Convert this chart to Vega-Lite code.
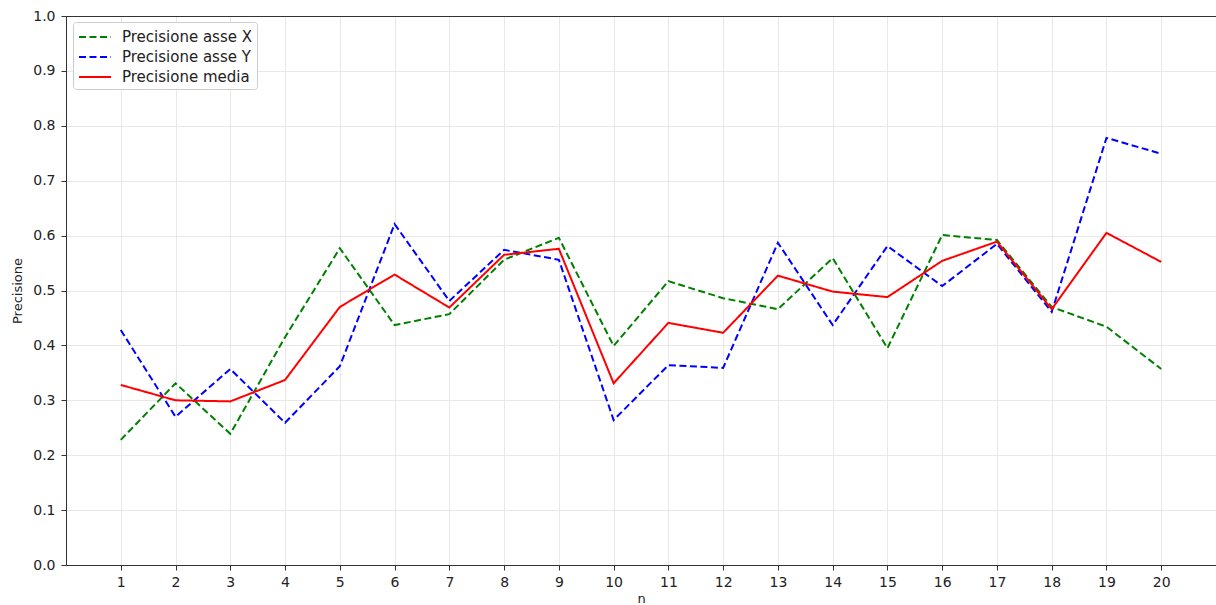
{
  "$schema": "https://vega.github.io/schema/vega-lite/v6.json",
  "width": 1150,
  "height": 549,
  "autosize": {"type": "none"},
  "padding": {"left": 66, "top": 16, "right": 0, "bottom": 40},
  "background": "white",
  "config": {
    "view": {"stroke": "#333", "strokeWidth": 1},
    "font": "DejaVu Sans",
    "axis": {
      "labelFont": "DejaVu Sans",
      "titleFont": "DejaVu Sans",
      "labelFontSize": 14,
      "titleFontSize": 13,
      "labelColor": "#222",
      "titleColor": "#222",
      "titleFontWeight": "normal",
      "domainColor": "#333",
      "tickColor": "#333",
      "tickSize": 5,
      "gridWidth": 1
    }
  },
  "data": {
    "values": [
      {"n": 1, "s": "Precisione asse X", "v": 0.228},
      {"n": 2, "s": "Precisione asse X", "v": 0.331},
      {"n": 3, "s": "Precisione asse X", "v": 0.239},
      {"n": 4, "s": "Precisione asse X", "v": 0.415},
      {"n": 5, "s": "Precisione asse X", "v": 0.577},
      {"n": 6, "s": "Precisione asse X", "v": 0.437},
      {"n": 7, "s": "Precisione asse X", "v": 0.457},
      {"n": 8, "s": "Precisione asse X", "v": 0.556},
      {"n": 9, "s": "Precisione asse X", "v": 0.596},
      {"n": 10, "s": "Precisione asse X", "v": 0.399},
      {"n": 11, "s": "Precisione asse X", "v": 0.517},
      {"n": 12, "s": "Precisione asse X", "v": 0.486},
      {"n": 13, "s": "Precisione asse X", "v": 0.466},
      {"n": 14, "s": "Precisione asse X", "v": 0.559},
      {"n": 15, "s": "Precisione asse X", "v": 0.395},
      {"n": 16, "s": "Precisione asse X", "v": 0.601},
      {"n": 17, "s": "Precisione asse X", "v": 0.592},
      {"n": 18, "s": "Precisione asse X", "v": 0.470},
      {"n": 19, "s": "Precisione asse X", "v": 0.434},
      {"n": 20, "s": "Precisione asse X", "v": 0.357},
      {"n": 1, "s": "Precisione asse Y", "v": 0.428},
      {"n": 2, "s": "Precisione asse Y", "v": 0.270},
      {"n": 3, "s": "Precisione asse Y", "v": 0.357},
      {"n": 4, "s": "Precisione asse Y", "v": 0.259},
      {"n": 5, "s": "Precisione asse Y", "v": 0.362},
      {"n": 6, "s": "Precisione asse Y", "v": 0.621},
      {"n": 7, "s": "Precisione asse Y", "v": 0.481},
      {"n": 8, "s": "Precisione asse Y", "v": 0.574},
      {"n": 9, "s": "Precisione asse Y", "v": 0.556},
      {"n": 10, "s": "Precisione asse Y", "v": 0.264},
      {"n": 11, "s": "Precisione asse Y", "v": 0.364},
      {"n": 12, "s": "Precisione asse Y", "v": 0.359},
      {"n": 13, "s": "Precisione asse Y", "v": 0.587},
      {"n": 14, "s": "Precisione asse Y", "v": 0.437},
      {"n": 15, "s": "Precisione asse Y", "v": 0.581},
      {"n": 16, "s": "Precisione asse Y", "v": 0.508},
      {"n": 17, "s": "Precisione asse Y", "v": 0.585},
      {"n": 18, "s": "Precisione asse Y", "v": 0.461},
      {"n": 19, "s": "Precisione asse Y", "v": 0.778},
      {"n": 20, "s": "Precisione asse Y", "v": 0.749},
      {"n": 1, "s": "Precisione media", "v": 0.328},
      {"n": 2, "s": "Precisione media", "v": 0.300},
      {"n": 3, "s": "Precisione media", "v": 0.298},
      {"n": 4, "s": "Precisione media", "v": 0.337},
      {"n": 5, "s": "Precisione media", "v": 0.470},
      {"n": 6, "s": "Precisione media", "v": 0.529},
      {"n": 7, "s": "Precisione media", "v": 0.469},
      {"n": 8, "s": "Precisione media", "v": 0.565},
      {"n": 9, "s": "Precisione media", "v": 0.576},
      {"n": 10, "s": "Precisione media", "v": 0.331},
      {"n": 11, "s": "Precisione media", "v": 0.441},
      {"n": 12, "s": "Precisione media", "v": 0.423},
      {"n": 13, "s": "Precisione media", "v": 0.527},
      {"n": 14, "s": "Precisione media", "v": 0.498},
      {"n": 15, "s": "Precisione media", "v": 0.488},
      {"n": 16, "s": "Precisione media", "v": 0.554},
      {"n": 17, "s": "Precisione media", "v": 0.589},
      {"n": 18, "s": "Precisione media", "v": 0.466},
      {"n": 19, "s": "Precisione media", "v": 0.605},
      {"n": 20, "s": "Precisione media", "v": 0.552}
    ]
  },
  "mark": {"type": "line", "strokeWidth": 2, "clip": true},
  "encoding": {
    "x": {
      "field": "n",
      "type": "quantitative",
      "scale": {"domain": [0, 21], "nice": false, "zero": false},
      "axis": {
        "values": [1,2,3,4,5,6,7,8,9,10,11,12,13,14,15,16,17,18,19,20],
        "format": "d",
        "title": "n",
        "gridColor": "#e8e8e8",
        "labelPadding": 5,
        "titlePadding": 3
      }
    },
    "y": {
      "field": "v",
      "type": "quantitative",
      "scale": {"domain": [0, 1], "nice": false},
      "axis": {
        "values": [0,0.1,0.2,0.3,0.4,0.5,0.6,0.7,0.8,0.9,1.0],
        "format": ".1f",
        "title": "Precisione",
        "gridColor": {"condition": {"test": "datum.value >= 0.999", "value": "#333333"}, "value": "#e8e8e8"},
        "labelPadding": 6,
        "titlePadding": 8
      }
    },
    "color": {
      "field": "s",
      "type": "nominal",
      "scale": {
        "domain": ["Precisione asse X", "Precisione asse Y", "Precisione media"],
        "range": ["#008000", "#0000ff", "#ff0000"]
      },
      "legend": {
        "title": null,
        "orient": "none",
        "legendX": 7,
        "legendY": 6,
        "strokeColor": "#cccccc",
        "fillColor": "white",
        "padding": 4,
        "cornerRadius": 3,
        "labelFont": "DejaVu Sans",
        "labelFontSize": 15,
        "labelColor": "#222",
        "symbolType": "M-1.6,0H1.6",
        "symbolSize": 400,
        "symbolStrokeWidth": 2,
        "symbolFillColor": "transparent",
        "symbolOffset": 7,
        "rowPadding": 1,
        "labelOffset": 16
      }
    },
    "strokeDash": {
      "field": "s",
      "type": "nominal",
      "scale": {
        "domain": ["Precisione asse X", "Precisione asse Y", "Precisione media"],
        "range": [[7, 3.5], [7, 3.5], [1, 0]]
      },
      "legend": {
        "title": null,
        "orient": "none",
        "legendX": 7,
        "legendY": 6,
        "strokeColor": "#cccccc",
        "fillColor": "white",
        "padding": 4,
        "cornerRadius": 3,
        "labelFont": "DejaVu Sans",
        "labelFontSize": 15,
        "labelColor": "#222",
        "symbolType": "M-1.6,0H1.6",
        "symbolSize": 400,
        "symbolStrokeWidth": 2,
        "symbolFillColor": "transparent",
        "symbolOffset": 7,
        "rowPadding": 1,
        "labelOffset": 16
      }
    }
  }
}
